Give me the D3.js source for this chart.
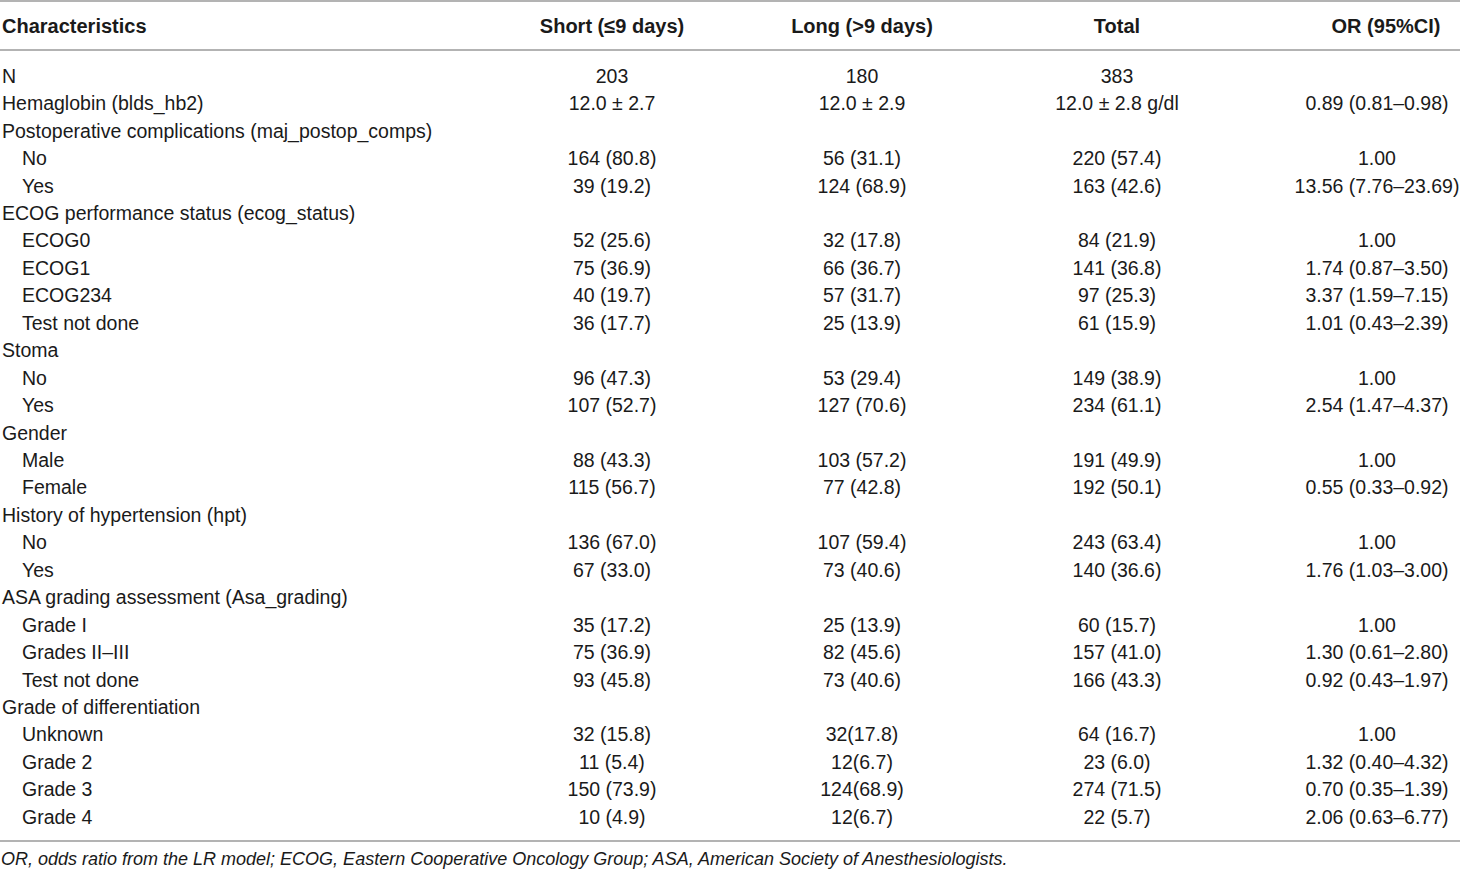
<!DOCTYPE html>
<html>
<head>
<meta charset="utf-8">
<script src="https://cdn.jsdelivr.net/npm/d3@7"></script>
<style>
  body { margin: 0; background: #fff; }
  svg { display: block; font-family: "Liberation Sans", Arial, sans-serif; }
</style>
</head>
<body>
<svg id="chart" width="1460" height="872"></svg>
<script>
// table contents
const headers = ["Characteristics", "Short (\u22649 days)", "Long (>9 days)", "Total", "OR (95%CI)"];

const labels = [
    "N", "Hemaglobin (blds_hb2)",
    "Postoperative complications (maj_postop_comps)", "No", "Yes",
    "ECOG performance status (ecog_status)", "ECOG0", "ECOG1", "ECOG234", "Test not done",
    "Stoma", "No", "Yes",
    "Gender", "Male", "Female",
    "History of hypertension (hpt)", "No", "Yes",
    "ASA grading assessment (Asa_grading)", "Grade I", "Grades II\u2013III", "Test not done",
    "Grade of differentiation", "Unknown", "Grade 2", "Grade 3", "Grade 4"
];

// 1 = sub row (indented)
const indent = [0,0, 0,1,1, 0,1,1,1,1, 0,1,1, 0,1,1, 0,1,1, 0,1,1,1, 0,1,1,1,1];

const shortStay = [
    "203", "12.0 \u00b1 2.7",
    "", "164 (80.8)", "39 (19.2)",
    "", "52 (25.6)", "75 (36.9)", "40 (19.7)", "36 (17.7)",
    "", "96 (47.3)", "107 (52.7)",
    "", "88 (43.3)", "115 (56.7)",
    "", "136 (67.0)", "67 (33.0)",
    "", "35 (17.2)", "75 (36.9)", "93 (45.8)",
    "", "32 (15.8)", "11 (5.4)", "150 (73.9)", "10 (4.9)"
];

const longStay = [
    "180", "12.0 \u00b1 2.9",
    "", "56 (31.1)", "124 (68.9)",
    "", "32 (17.8)", "66 (36.7)", "57 (31.7)", "25 (13.9)",
    "", "53 (29.4)", "127 (70.6)",
    "", "103 (57.2)", "77 (42.8)",
    "", "107 (59.4)", "73 (40.6)",
    "", "25 (13.9)", "82 (45.6)", "73 (40.6)",
    "", "32(17.8)", "12(6.7)", "124(68.9)", "12(6.7)"
];

const total = [
    "383", "12.0 \u00b1 2.8 g/dl",
    "", "220 (57.4)", "163 (42.6)",
    "", "84 (21.9)", "141 (36.8)", "97 (25.3)", "61 (15.9)",
    "", "149 (38.9)", "234 (61.1)",
    "", "191 (49.9)", "192 (50.1)",
    "", "243 (63.4)", "140 (36.6)",
    "", "60 (15.7)", "157 (41.0)", "166 (43.3)",
    "", "64 (16.7)", "23 (6.0)", "274 (71.5)", "22 (5.7)"
];

const oddsRatio = [
    "", "0.89 (0.81\u20130.98)",
    "", "1.00", "13.56 (7.76\u201323.69)",
    "", "1.00", "1.74 (0.87\u20133.50)", "3.37 (1.59\u20137.15)", "1.01 (0.43\u20132.39)",
    "", "1.00", "2.54 (1.47\u20134.37)",
    "", "1.00", "0.55 (0.33\u20130.92)",
    "", "1.00", "1.76 (1.03\u20133.00)",
    "", "1.00", "1.30 (0.61\u20132.80)", "0.92 (0.43\u20131.97)",
    "", "1.00", "1.32 (0.40\u20134.32)", "0.70 (0.35\u20131.39)", "2.06 (0.63\u20136.77)"
];

const footnote = "OR, odds ratio from the LR model; ECOG, Eastern Cooperative Oncology Group; ASA, American Society of Anesthesiologists.";

const svg = d3.select("#chart");
const width = +svg.attr("width");

// rows laid out on a point scale, first row centre to last row centre
const y = d3.scalePoint()
    .domain(d3.range(labels.length))
    .range([76, 817]);

// column centres for the value columns
const colX = [612, 862, 1117, 1377];
const columns = [shortStay, longStay, total, oddsRatio];

const rule = "#9a9a9a";
[1, 50, 841].forEach(ly => {
    svg.append("line")
        .attr("x1", 0).attr("x2", width)
        .attr("y1", ly).attr("y2", ly)
        .attr("stroke", rule)
        .attr("stroke-width", 1.6);
});

// header
const head = svg.append("g")
    .attr("font-weight", "bold")
    .attr("font-size", 20)
    .attr("fill", "#1a1a1a");

head.append("text")
    .attr("x", 2).attr("y", 26)
    .attr("dy", "0.35em")
    .text(headers[0]);

head.selectAll("text.col")
    .data(headers.slice(1))
    .join("text")
    .attr("class", "col")
    .attr("x", (d, i) => i == 3 ? 1386 : colX[i])
    .attr("y", 26)
    .attr("dy", "0.35em")
    .attr("text-anchor", "middle")
    .text(d => d);

// body rows
const body = svg.append("g")
    .attr("font-size", 19.5)
    .attr("fill", "#1a1a1a");

body.selectAll("text.label")
    .data(labels)
    .join("text")
    .attr("class", "label")
    .attr("x", (d, i) => indent[i] ? 22 : 2)
    .attr("y", (d, i) => y(i))
    .attr("dy", "0.35em")
    .text(d => d);

columns.forEach((col, c) => {
    body.append("g")
        .selectAll("text")
        .data(col)
        .join("text")
        .attr("x", colX[c])
        .attr("y", (d, i) => y(i))
        .attr("dy", "0.35em")
        .attr("text-anchor", "middle")
        .text(d => d);
});

svg.append("text")
    .attr("x", 1)
    .attr("y", 859)
    .attr("dy", "0.35em")
    .attr("font-size", 18)
    .attr("font-style", "italic")
    .attr("fill", "#1a1a1a")
    .text(footnote);
</script>
</body>
</html>
